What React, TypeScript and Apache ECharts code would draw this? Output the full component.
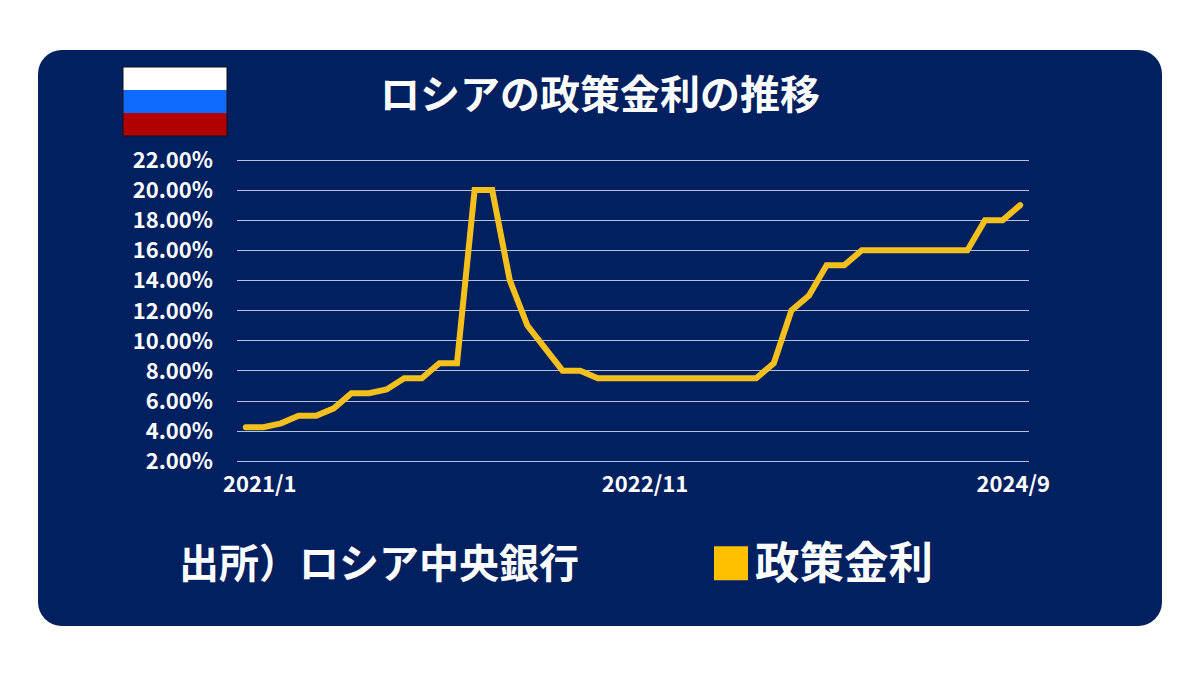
import React, { useEffect, useRef } from "react";
import * as echarts from "echarts";

const startYear = 2021;
const monthLabels: string[] = [];
for (let i = 0; i < 45; i++) {
  monthLabels.push(`${startYear + Math.floor(i / 12)}/${(i % 12) + 1}`);
}
const policyRate = [
  4.25, 4.25, 4.5, 5, 5, 5.5, 6.5, 6.5, 6.75, 7.5, 7.5, 8.5,
  8.5, 20, 20, 14, 11, 9.5, 8, 8, 7.5, 7.5, 7.5, 7.5,
  7.5, 7.5, 7.5, 7.5, 7.5, 7.5, 8.5, 12, 13, 15, 15, 16,
  16, 16, 16, 16, 16, 16, 18, 18, 19,
];
const shownLabels = ["2021/1", "2022/11", "2024/9"];
const titleText = "ロシアの政策金利の推移";
const sourceText = "出所）ロシア中央銀行";
const seriesName = "政策金利";

const JP = '"Noto Sans CJK JP", "Noto Sans", sans-serif';

export default function App() {
  const ref = useRef<HTMLDivElement>(null);
  useEffect(() => {
    document.body.style.margin = "0";
    document.body.style.background = "#ffffff";
    const chart = echarts.init(ref.current!, null, { renderer: "svg" });
    const tickStyle = { color: "#fff", fontSize: 22, fontWeight: 700, fontFamily: '"Noto Sans CJK JP"' };
    chart.setOption({
      animation: false,
      backgroundColor: "#ffffff",
      title: {
        text: titleText,
        left: 595,
        top: 67,
        textAlign: "center",
        textStyle: { color: "#fff", fontSize: 40, fontWeight: 700, fontFamily: JP },
      },
      legend: {
        data: [{ name: seriesName, icon: "rect" }],
        left: 709,
        top: 532,
        itemWidth: 34,
        itemHeight: 34,
        itemGap: 7,
        formatter: (name: string) => `{t|${name}}`,
        textStyle: {
          rich: {
            t: { color: "#fff", fontSize: 44.5, fontWeight: 700, fontFamily: JP, padding: [0, 0, 8, 2] },
          },
        },
      },
      grid: { left: 237, right: 171, top: 160, bottom: 214, containLabel: false },
      xAxis: {
        type: "category",
        data: monthLabels,
        axisLine: { show: false },
        axisTick: { show: false },
        axisLabel: {
          interval: (i: number, v: string) => shownLabels.includes(v),
          margin: 10,
          color: "#fff",
          formatter: (v: string) =>
            v === shownLabels[0] ? `{a|${v}}` : v === shownLabels[1] ? `{b|${v}}` : `{c|${v}}`,
          rich: {
            a: { ...tickStyle, padding: [0, 0, 0, 28] },
            b: { ...tickStyle, padding: [0, 0, 0, 24] },
            c: { ...tickStyle, padding: [0, 14, 0, 0] },
          },
        },
      },
      yAxis: {
        type: "value",
        min: 2,
        max: 22,
        interval: 2,
        axisLine: { show: false },
        axisTick: { show: false },
        axisLabel: {
          margin: 24,
          formatter: (v: number) => `{y|${v.toFixed(2)}%}`,
          rich: { y: { ...tickStyle, padding: [0, 0, 4, 0] } },
        },
        splitLine: { lineStyle: { color: "#b4c0dc", width: 1 } },
      },
      series: [
        {
          name: seriesName,
          type: "line",
          data: policyRate,
          showSymbol: false,
          smooth: false,
          itemStyle: { color: "#FFC000" },
          lineStyle: { color: "#F6C01C", width: 6, cap: "round", join: "miter" },
          z: 5,
        },
      ],
      graphic: [
        {
          type: "rect",
          z: -10,
          silent: true,
          shape: { x: 38, y: 50, width: 1124, height: 576, r: 24 },
          style: { fill: "#002060" },
        },
        { type: "rect", z: 10, shape: { x: 123, y: 67, width: 104, height: 23 }, style: { fill: "#ffffff" } },
        { type: "rect", z: 10, shape: { x: 123, y: 90, width: 104, height: 23 }, style: { fill: "#0F6BFF" } },
        { type: "rect", z: 10, shape: { x: 123, y: 113, width: 104, height: 23 }, style: { fill: "#B00000" } },
        {
          type: "rect",
          z: 11,
          shape: { x: 123, y: 67, width: 104, height: 69 },
          style: { fill: "none", stroke: "#10131f", lineWidth: 1 },
        },
        {
          type: "text",
          z: 10,
          x: 179,
          y: 541,
          style: { text: sourceText, fill: "#fff", fontSize: 40, fontWeight: 700, fontFamily: JP },
        },
      ],
    });
    return () => chart.dispose();
  }, []);
  return <div ref={ref} style={{ width: 1200, height: 675 }} />;
}
